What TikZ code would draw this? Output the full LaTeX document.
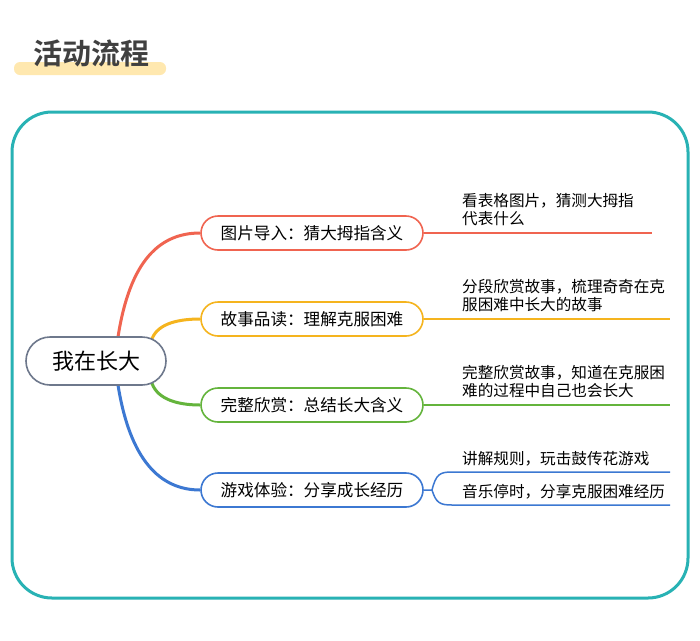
\documentclass[tikz,border=0pt]{standalone}
\usepackage{fontspec}
\setmainfont{Noto Sans CJK SC}
\newfontfamily\cjkb{Noto Sans CJK SC Bold}
\begin{document}
\begin{tikzpicture}[x=1pt,y=-1pt,
  br/.style={draw=#1,line width=1.6pt,rounded corners=17pt,minimum width=222pt,minimum height=34pt,inner sep=0pt,font=\fontsize{16.6}{16.6}\selectfont},
  ed/.style={draw=#1,line width=3pt},
  ln/.style={draw=#1,line width=1.5pt},
  rt/.style={draw=cgray,line width=1.6pt,rounded corners=24pt,minimum width=140pt,minimum height=48pt,fill=white,font=\fontsize{22}{22}\selectfont},
  lf/.style={anchor=west,align=left,font=\fontsize{15.6}{18}\selectfont,inner sep=0pt}]
\definecolor{teal1}{RGB}{40,178,180}
\definecolor{cr}{RGB}{240,100,80}
\definecolor{co}{RGB}{245,180,30}
\definecolor{cg}{RGB}{100,180,60}
\definecolor{cb}{RGB}{60,120,210}
\definecolor{cgray}{RGB}{110,120,140}
\definecolor{yel}{RGB}{255,232,175}
\useasboundingbox (0,0) rectangle (700,640);
\fill[white] (0,0) rectangle (700,640);
\fill[yel,rounded corners=6pt] (14,62) rectangle (166,75);
\node[font=\cjkb\fontsize{29}{29}\selectfont,text=black!75] (title) at (91,53) {活动流程};
\draw[teal1,line width=3pt,rounded corners=40pt] (12,112) rectangle (688,598);
\node[br=cr] (a) at (312,233) {图片导入：猜大拇指含义};
\node[br=co] (b) at (312,319) {故事品读：理解克服困难};
\node[br=cg] (c) at (312,405) {完整欣赏：总结长大含义};
\node[br=cb] (d) at (312,490) {游戏体验：分享成长经历};
\coordinate (r1) at (118,337);
\coordinate (r2) at (151,342);
\coordinate (r3) at (151,380);
\coordinate (r4) at (118,385);
\draw[ed=cr] (r1) .. controls (130,260) and (160,233) .. (a.west);
\draw[ed=co] (r2) .. controls (155,325) and (175,319) .. (b.west);
\draw[ed=cg] (r3) .. controls (155,398) and (175,405) .. (c.west);
\draw[ed=cb] (r4) .. controls (130,460) and (160,490) .. (d.west);
\node[rt] (root) at (96,361) {我在长大};
\coordinate (ae) at (652,233);
\coordinate (be) at (670,319);
\coordinate (ce) at (670,405);
\draw[ln=cr] (a.east) -- (ae);
\draw[ln=co] (b.east) -- (be);
\draw[ln=cg] (c.east) -- (ce);
\node[lf] (ta) at (462,210) {看表格图片，猜测大拇指\\代表什么};
\node[lf] (tb) at (462,296) {分段欣赏故事，梳理奇奇在克\\服困难中长大的故事};
\node[lf] (tc) at (462,382) {完整欣赏故事，知道在克服困\\难的过程中自己也会长大};
\node[lf] (td1) at (462,459) {讲解规则，玩击鼓传花游戏};
\node[lf] (td2) at (462,492) {音乐停时，分享克服困难经历};
\coordinate (d1) at (670,472);
\coordinate (d2) at (670,505);
\draw[ln=cb] (d.east) -- (432,490) .. controls (436,474) and (440,472) .. (452,472) -- (d1);
\draw[ln=cb] (432,490) .. controls (436,503) and (440,505) .. (452,505) -- (d2);
\end{tikzpicture}
\end{document}
